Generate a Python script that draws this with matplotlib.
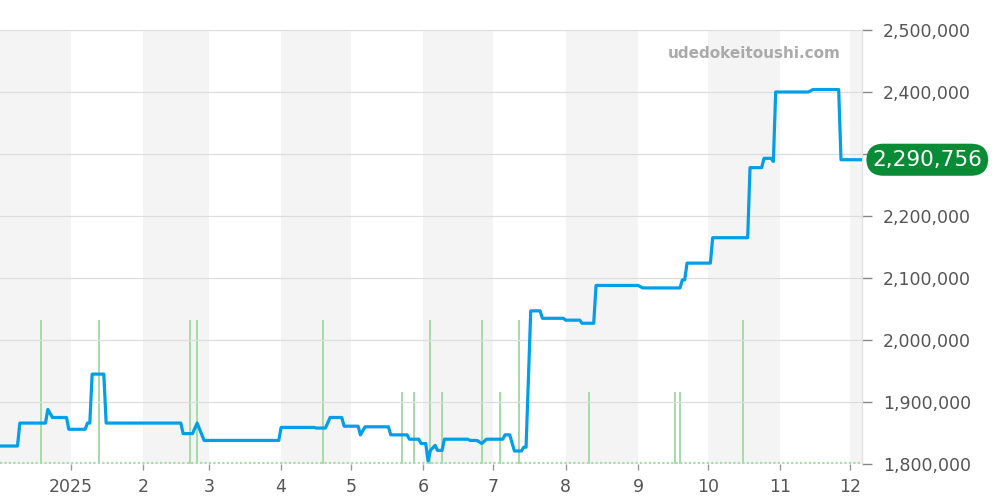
import matplotlib
matplotlib.use('Agg')
import matplotlib.pyplot as plt
import matplotlib.dates as mdates
from matplotlib.ticker import FuncFormatter, MultipleLocator
import numpy as np

# price history (yen)
price_dates = [
    "2024-12-01", "2024-12-09", "2024-12-10", "2024-12-21", "2024-12-22", "2024-12-24",
    "2024-12-30", "2024-12-31", "2025-01-07", "2025-01-08", "2025-01-09", "2025-01-10",
    "2025-01-15", "2025-01-16", "2025-02-17", "2025-02-18", "2025-02-22", "2025-02-24",
    "2025-02-27", "2025-03-31", "2025-04-01", "2025-04-15", "2025-04-16", "2025-04-20",
    "2025-04-22", "2025-04-27", "2025-04-28", "2025-05-04", "2025-05-05", "2025-05-07",
    "2025-05-17", "2025-05-18", "2025-05-25", "2025-05-26", "2025-05-30", "2025-05-31",
    "2025-06-02", "2025-06-03", "2025-06-04", "2025-06-06", "2025-06-07", "2025-06-09",
    "2025-06-10", "2025-06-20", "2025-06-21", "2025-06-24", "2025-06-26", "2025-06-28",
    "2025-07-05", "2025-07-06", "2025-07-08", "2025-07-10", "2025-07-13", "2025-07-14",
    "2025-07-15", "2025-07-17", "2025-07-21", "2025-07-22", "2025-07-31", "2025-08-01",
    "2025-08-07", "2025-08-08", "2025-08-13", "2025-08-14", "2025-09-01", "2025-09-03",
    "2025-09-19", "2025-09-20", "2025-09-21", "2025-09-22", "2025-10-02", "2025-10-03",
    "2025-10-18", "2025-10-19", "2025-10-24", "2025-10-25", "2025-10-28", "2025-10-29",
    "2025-10-30", "2025-11-13", "2025-11-15", "2025-11-26", "2025-11-27", "2025-12-06",
]
price_values = [
    1829000, 1829000, 1866000, 1866000, 1888000, 1875000,
    1875000, 1856000, 1856000, 1866000, 1866000, 1945000,
    1945000, 1866000, 1866000, 1849000, 1849000, 1866000,
    1838000, 1838000, 1859000, 1859000, 1858000, 1858000,
    1875000, 1875000, 1861000, 1861000, 1847000, 1860000,
    1860000, 1847000, 1847000, 1840000, 1840000, 1833000,
    1833000, 1805000, 1822000, 1830000, 1822000, 1822000,
    1840000, 1840000, 1838000, 1838000, 1833000, 1840000,
    1840000, 1847000, 1847000, 1821000, 1821000, 1827000,
    1827000, 2047000, 2047000, 2035000, 2035000, 2032000,
    2032000, 2027000, 2027000, 2088000, 2088000, 2084000,
    2084000, 2097000, 2097000, 2124000, 2124000, 2165000,
    2165000, 2278000, 2278000, 2293000, 2293000, 2288000,
    2400000, 2400000, 2404000, 2404000, 2290756, 2290756,
]

# number of trades per day
volume_dates = [
    "2024-12-19", "2025-01-13", "2025-02-21", "2025-02-24", "2025-04-19", "2025-05-23",
    "2025-05-28", "2025-06-04", "2025-06-09", "2025-06-26", "2025-07-04", "2025-07-12",
    "2025-08-11", "2025-09-17", "2025-09-19", "2025-10-16",
]
volume_counts = [2, 2, 2, 2, 2, 1, 1, 2, 1, 2, 1, 2, 1, 1, 1, 2]

current_price = 2290756
shaded_months = [
    ("2024-12-01", "2025-01-01"), ("2025-02-01", "2025-03-01"), ("2025-04-01", "2025-05-01"),
    ("2025-06-01", "2025-07-01"), ("2025-08-01", "2025-09-01"), ("2025-10-01", "2025-11-01"),
    ("2025-12-01", "2026-01-01"),
]

pdates = np.array(price_dates, dtype='datetime64[D]')
vdates = np.array(volume_dates, dtype='datetime64[D]')

fig = plt.figure(figsize=(10, 5), dpi=100)
ax = fig.add_axes([0.0, 0.072, 0.862, 0.868])   # volume axis (bottom)
ax2 = ax.twinx()                                 # price axis (on top)

# alternating month shading
for start, end in shaded_months:
    ax.axvspan(np.datetime64(start), np.datetime64(end), color='#f4f4f4', lw=0, zorder=0)

# volume bars
ax.bar(vdates, volume_counts, width=0.9, color='#a6dcaa', zorder=2)
ax.axhline(0.015, color='#a6dcaa', lw=1.6, ls=(0, (1, 1)), zorder=2)
ax.set_ylim(0, 6.03)
ax.set_yticks([])

# price line
ax2.plot(pdates, price_values, color='#009fe8', lw=2.3, solid_joinstyle='round', zorder=3)
ax2.set_ylim(1800000, 2500000)
ax2.yaxis.set_major_locator(MultipleLocator(100000))
# the 2,300,000 label sits under the current-price badge
ax2.yaxis.set_major_formatter(FuncFormatter(
    lambda v, p: "" if abs(v - 2300000) < 1 else f"{int(round(v)):,}"))
ax2.grid(axis='y', color='#dddddd', lw=0.9)
ax2.set_axisbelow(True)
ax2.tick_params(axis='y', colors='#888888', labelcolor='#555555', labelsize=12.5,
                length=7, width=1, pad=8)

ax.set_xlim(np.datetime64('2024-12-01T12'), np.datetime64('2025-12-06'))
ax.xaxis.set_major_locator(mdates.MonthLocator())
ax.xaxis.set_major_formatter(FuncFormatter(
    lambda v, p: str(mdates.num2date(v).year) if mdates.num2date(v).month == 1
    else str(mdates.num2date(v).month)))
ax.tick_params(axis='x', colors='#999999', labelcolor='#555555', labelsize=12.5,
               length=4, width=1, pad=6)

for a in (ax, ax2):
    for side in ('top', 'left', 'bottom'):
        a.spines[side].set_visible(False)
    a.spines['right'].set_color('#e0e0e0')

# watermark
ax2.text(0.975, 0.945, "udedokeitoushi.com", transform=ax2.transAxes, ha='right', va='center',
         fontsize=11, fontweight='bold', color='#aaaaaa')

# current price badge
ax2.text(1.012, current_price, f"{current_price:,}", transform=ax2.get_yaxis_transform(),
         ha='left', va='center', fontsize=15.5, color='white', zorder=5, clip_on=False,
         bbox=dict(boxstyle='round,pad=0.28,rounding_size=0.8', fc='#0a8c37', ec='none'))

fig.savefig('out.png', dpi=100)
